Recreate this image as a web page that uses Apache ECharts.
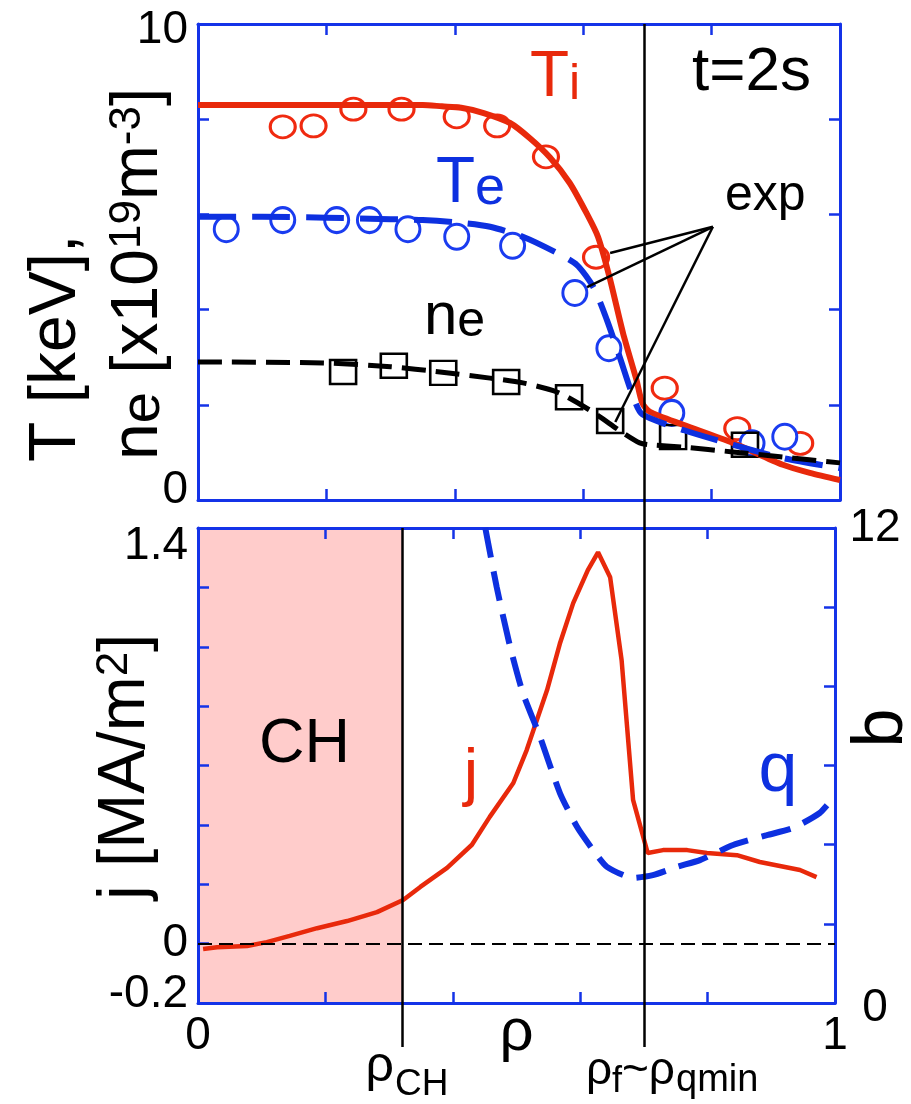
<!DOCTYPE html>
<html>
<head>
<meta charset="utf-8">
<script src="https://cdn.jsdelivr.net/npm/echarts@6/dist/echarts.min.js"></script>
<style>
  html, body { margin: 0; padding: 0; background: #fff; }
  #chart { width: 911px; height: 1104px; }
</style>
</head>
<body>
<div id="chart"></div>
<script>
// 上段: Ti, Te, ne 分布 (模擬 + 實驗點)
const tiRho = [0, 0.1, 0.2, 0.3, 0.35, 0.38, 0.41, 0.445, 0.486, 0.517, 0.548, 0.579, 0.605, 0.623, 0.641, 0.662, 0.683, 0.692, 0.704, 0.756, 0.833, 0.911, 0.953, 1.0]
const tiSim = [8.3, 8.3, 8.3, 8.3, 8.3, 8.27, 8.24, 8.13, 7.92, 7.6, 7.2, 6.66, 6.03, 5.53, 4.68, 3.51, 2.52, 2.04, 1.85, 1.58, 1.2, 0.74, 0.57, 0.42]
const teRho = [0, 0.1, 0.2, 0.3, 0.35, 0.413, 0.455, 0.506, 0.559, 0.59, 0.616, 0.637, 0.657, 0.678, 0.692, 0.756, 0.833, 0.911, 1.0]
const teSim = [5.95, 5.95, 5.93, 5.9, 5.88, 5.82, 5.74, 5.53, 5.19, 4.94, 4.47, 3.78, 3.0, 2.16, 1.8, 1.47, 1.16, 0.88, 0.67]
const neRho = [0, 0.195, 0.3, 0.377, 0.455, 0.506, 0.559, 0.61, 0.662, 0.688, 0.704, 0.756, 0.833, 0.911, 1.0]
const neSim = [2.9, 2.88, 2.8, 2.69, 2.56, 2.46, 2.27, 1.89, 1.41, 1.2, 1.16, 1.11, 1.01, 0.9, 0.78]

const tiExpRho = [0.132, 0.18, 0.242, 0.317, 0.403, 0.466, 0.542, 0.62, 0.727, 0.84, 0.938]
const tiExp = [7.84, 7.86, 8.21, 8.21, 8.05, 7.86, 7.21, 5.1, 2.35, 1.5, 1.19]
const teExpRho = [0.044, 0.132, 0.216, 0.267, 0.327, 0.403, 0.49, 0.587, 0.64, 0.738, 0.863, 0.914]
const teExp = [5.69, 5.88, 5.88, 5.88, 5.69, 5.53, 5.34, 4.35, 3.19, 1.83, 1.19, 1.33]
const neExpRho = [0.226, 0.305, 0.382, 0.48, 0.578, 0.642, 0.74, 0.852]
const neExp = [2.69, 2.82, 2.67, 2.48, 2.16, 1.66, 1.32, 1.16]

// "exp" 指示線: 起點與三個終點 (rho, T)
const expAnchor = [0.802, 5.74]
const expTargets = [[0.642, 5.19], [0.606, 4.47], [0.65, 1.64]]

// 下段: j 與 q 分布
const jRho = [0.008, 0.03, 0.077, 0.108, 0.144, 0.187, 0.234, 0.281, 0.322, 0.349, 0.391, 0.43, 0.458, 0.495, 0.516, 0.548, 0.568, 0.589, 0.612, 0.628, 0.647, 0.665, 0.683, 0.706, 0.73, 0.768, 0.799, 0.846, 0.882, 0.945, 0.971]
const jVal = [-0.018, -0.012, -0.008, 0.005, 0.026, 0.052, 0.076, 0.106, 0.147, 0.191, 0.255, 0.333, 0.427, 0.541, 0.652, 0.854, 1.01, 1.147, 1.258, 1.318, 1.234, 0.955, 0.484, 0.305, 0.315, 0.315, 0.305, 0.298, 0.275, 0.248, 0.224]
const qRho = [0.451, 0.469, 0.49, 0.51, 0.537, 0.568, 0.595, 0.62, 0.642, 0.683, 0.714, 0.752, 0.788, 0.84, 0.893, 0.934, 0.976, 0.997]
const qVal = [12.0, 10.5, 9.0, 7.83, 6.72, 5.31, 4.45, 3.87, 3.44, 3.16, 3.23, 3.44, 3.61, 3.99, 4.24, 4.42, 4.8, 5.18]

const rhoCH = 0.32 // CH 區域邊界
const rhoF = 0.697 // rho_f ~ rho_qmin

// 刻度標籤 (只顯示這些值)
const rhoTickLabels = [0, 1]
const tTickLabels = [0, 10]
const jTickLabels = [-0.2, 0, 1.4]
const qTickLabels = [0, 12]

const FONT = "'Liberation Sans', Arial, Helvetica, sans-serif"
const AXIS_BLUE = '#1433e8'
const RED = '#e8290b'
const BLUE = '#0d30e0'

const zip = (xs, ys) => xs.map((x, i) => [x, ys[i]])
const has = (list, v) => list.some((t) => Math.abs(t - v) < 1e-6)

// 邊框型座標軸 (刻度朝內)
const frameAxis = (gridIndex, position, min, max, interval, extra) =>
  Object.assign(
    {
      type: 'value',
      gridIndex,
      position,
      min,
      max,
      interval,
      z: 3,
      axisLine: { show: true, onZero: false, lineStyle: { color: AXIS_BLUE, width: 3 } },
      axisTick: { show: true, inside: true, length: 11, lineStyle: { color: AXIS_BLUE, width: 2.5 } },
      axisLabel: { show: false },
      splitLine: { show: false },
    },
    extra,
  )

const labelStyle = { color: '#000', fontSize: 46, fontFamily: FONT }

const hiddenAxis = (gridIndex) => ({ type: 'value', gridIndex, min: 0, max: 1, show: false })

const myChart = echarts.init(document.getElementById('chart'))

const option = {
  animation: false,
  backgroundColor: '#fff',
  grid: [
    { left: 198, top: 24, right: 71, bottom: 604, outerBoundsMode: 'none' },
    { left: 198, top: 528, right: 76, bottom: 101, outerBoundsMode: 'none' },
    { left: 198, top: 24, right: 76, bottom: 57, outerBoundsMode: 'none' }, // rho_f 直線用
    { left: 198, top: 528, right: 76, bottom: 57, outerBoundsMode: 'none' }, // rho_CH 直線用
  ],
  xAxis: [
    frameAxis(0, 'bottom', 0, 1, 0.2),
    frameAxis(0, 'top', 0, 1, 0.2),
    frameAxis(1, 'bottom', 0, 1, 0.2, {
      axisLabel: Object.assign({
        show: true,
        margin: 10,
        showMinLabel: true,
        showMaxLabel: true,
        formatter: (v) => (has(rhoTickLabels, v) ? String(v) : ''),
      }, labelStyle),
      name: 'ρ',
      nameLocation: 'middle',
      nameGap: 0,
      nameMoveOverlap: false,
      nameTextStyle: { color: '#000', fontSize: 60, fontFamily: FONT },
    }),
    frameAxis(1, 'top', 0, 1, 0.2),
    hiddenAxis(2),
    hiddenAxis(3),
  ],
  yAxis: [
    frameAxis(0, 'left', 0, 10, 2, {
      axisLabel: Object.assign({
        show: true,
        margin: 10,
        showMinLabel: true,
        showMaxLabel: true,
        formatter: (v) => (!has(tTickLabels, v) ? '' : v === 10 ? '{t|10}' : '{b|0}'),
        rich: { t: { padding: [12, 0, 0, 0] }, b: { padding: [0, 0, 20, 0] } },
      }, labelStyle),
    }),
    frameAxis(0, 'right', 0, 10, 2),
    frameAxis(1, 'left', -0.2, 1.4, 0.2, {
      axisLabel: Object.assign({
        show: true,
        margin: 10,
        showMinLabel: true,
        showMaxLabel: true,
        formatter: (v) => {
          if (!has(jTickLabels, v)) return ''
          if (Math.abs(v - 1.4) < 1e-6) return '{t|1.4}'
          if (Math.abs(v + 0.2) < 1e-6) return '{b|-0.2}'
          return '0'
        },
        rich: { t: { padding: [36, 0, 0, 0] }, b: { padding: [0, 0, 18, 0] } },
      }, labelStyle),
    }),
    frameAxis(1, 'right', 0, 12, 2, {
      axisLabel: Object.assign({
        show: true,
        margin: 40,
        align: 'center',
        showMinLabel: true,
        showMaxLabel: true,
        formatter: (v) => (!has(qTickLabels, v) ? '' : v === 0 ? '{t|0}' : String(v)),
        rich: { t: { padding: [10, 0, 0, 0] } },
      }, labelStyle),
    }),
    hiddenAxis(2),
    hiddenAxis(3),
  ],
  series: [
    {
      name: 'Ti',
      type: 'line',
      xAxisIndex: 0,
      yAxisIndex: 0,
      data: zip(tiRho, tiSim),
      smooth: 0.25,
      symbol: 'none',
      lineStyle: { color: RED, width: 6 },
    },
    {
      name: 'Te',
      type: 'line',
      xAxisIndex: 0,
      yAxisIndex: 0,
      data: zip(teRho, teSim),
      smooth: 0.25,
      symbol: 'none',
      lineStyle: { color: BLUE, width: 6, type: [38, 16] },
    },
    {
      name: 'ne',
      type: 'line',
      xAxisIndex: 0,
      yAxisIndex: 0,
      data: zip(neRho, neSim),
      smooth: 0.25,
      symbol: 'none',
      lineStyle: { color: '#000', width: 5, type: [24, 10] },
    },
    {
      name: 'Ti exp',
      type: 'scatter',
      xAxisIndex: 0,
      yAxisIndex: 0,
      data: zip(tiExpRho, tiExp),
      symbol: 'circle',
      symbolSize: [25, 22],
      itemStyle: { color: '#fff', borderColor: '#f02a10', borderWidth: 3, opacity: 1 },
      markLine: {
        silent: true,
        symbol: ['none', 'none'],
        label: { show: false },
        lineStyle: { color: '#000', width: 2.5, type: 'solid' },
        data: expTargets.map((t) => [{ coord: expAnchor }, { coord: t }]),
      },
    },
    {
      name: 'Te exp',
      type: 'scatter',
      xAxisIndex: 0,
      yAxisIndex: 0,
      data: zip(teExpRho, teExp),
      symbol: 'circle',
      symbolSize: [24, 25],
      itemStyle: { color: '#fff', borderColor: '#1a3cf0', borderWidth: 3, opacity: 1 },
    },
    {
      name: 'ne exp',
      type: 'scatter',
      xAxisIndex: 0,
      yAxisIndex: 0,
      data: zip(neExpRho, neExp),
      symbol: 'rect',
      symbolSize: [26, 24],
      itemStyle: { color: 'rgba(0,0,0,0)', borderColor: '#000', borderWidth: 2.5, opacity: 1 },
    },
    {
      name: 'j',
      type: 'line',
      xAxisIndex: 2,
      yAxisIndex: 2,
      data: zip(jRho, jVal),
      symbol: 'none',
      lineStyle: { color: RED, width: 4.5 },
      markArea: {
        silent: true,
        itemStyle: { color: '#ffcccb' },
        data: [[{ xAxis: 0 }, { xAxis: rhoCH }]],
      },
      markLine: {
        silent: true,
        symbol: ['none', 'none'],
        label: { show: false },
        lineStyle: { color: '#000', width: 2, type: [14, 7] },
        data: [{ yAxis: 0 }],
      },
    },
    {
      name: 'q',
      type: 'line',
      xAxisIndex: 2,
      yAxisIndex: 3,
      data: zip(qRho, qVal),
      smooth: 0.2,
      symbol: 'none',
      lineStyle: { color: BLUE, width: 6, type: [30, 14] },
    },
    {
      name: 'rho_f',
      type: 'line',
      xAxisIndex: 4,
      yAxisIndex: 4,
      data: [],
      markLine: {
        silent: true,
        symbol: ['none', 'none'],
        label: { show: false },
        lineStyle: { color: '#000', width: 2.5, type: 'solid' },
        data: [{ xAxis: rhoF }],
      },
    },
    {
      name: 'rho_CH',
      type: 'line',
      xAxisIndex: 5,
      yAxisIndex: 5,
      data: [],
      markLine: {
        silent: true,
        symbol: ['none', 'none'],
        label: { show: false },
        lineStyle: { color: '#000', width: 2.5, type: 'solid' },
        data: [{ xAxis: rhoCH }],
      },
    },
  ],
}

// 文字標籤
const tok = (size, color, vAlign) => ({ fontSize: size, fontFamily: FONT, fill: color, color, verticalAlign: vAlign })
const text = (x, y, str, size, color, opts = {}) => ({
  type: 'text',
  x,
  y,
  z: 100,
  silent: true,
  rotation: opts.rotation || 0,
  style: {
    text: str,
    fontSize: size,
    fontFamily: FONT,
    fill: color,
    align: opts.align || 'left',
    textAlign: opts.align || 'left',
    verticalAlign: 'middle',
    textVerticalAlign: 'middle',
    rich: opts.rich,
  },
})

option.graphic = [
  text(57, 462, 'T [keV],', 66, '#000', { rotation: Math.PI / 2 }),
  text(139, 460, '{m|n}{e|e}{m| [x10}{s|19}{m|m}{s|-3}{m|]}', 66, '#000', {
    rotation: Math.PI / 2,
    rich: { m: tok(66, '#000', 'bottom'), e: tok(56, '#000', 'bottom'), s: tok(44, '#000', 'top') },
  }),
  text(126, 900, '{m|j [MA/m}{s|2}{m|]}', 66, '#000', {
    rotation: Math.PI / 2,
    rich: { m: tok(66, '#000', 'bottom'), s: tok(44, '#000', 'top') },
  }),
  text(884, 728, 'q', 70, '#000', { rotation: -Math.PI / 2, align: 'center' }),
  text(530, 78, '{a|T}{b|i}', 64, RED, { rich: { a: tok(64, RED, 'bottom'), b: tok(50, RED, 'bottom') } }),
  text(436, 184, '{a|T}{b|e}', 64, BLUE, { rich: { a: tok(64, BLUE, 'bottom'), b: tok(54, BLUE, 'bottom') } }),
  text(424, 317, '{a|n}{b|e}', 60, '#000', { rich: { a: tok(60, '#000', 'bottom'), b: tok(50, '#000', 'bottom') } }),
  text(692, 73, 't=2s', 62, '#000'),
  text(725, 196, 'exp', 50, '#000'),
  text(259, 745, 'CH', 63, '#000'),
  text(471, 776, 'j', 65, RED, { align: 'center' }),
  text(778, 772, 'q', 70, BLUE, { align: 'center' }),
  // rho_CH
  text(394, 1067, 'ρ', 50, '#000', { align: 'right' }),
  text(395, 1085, 'CH', 37, '#000'),
  // rho_f ~ rho_qmin
  text(586, 1071, 'ρ', 46, '#000'),
  text(612, 1082, 'f', 36, '#000'),
  text(622, 1071, '~ρ', 46, '#000'),
  text(676, 1081, 'qmin', 38, '#000'),
]

myChart.setOption(option, true)
</script>
</body>
</html>
